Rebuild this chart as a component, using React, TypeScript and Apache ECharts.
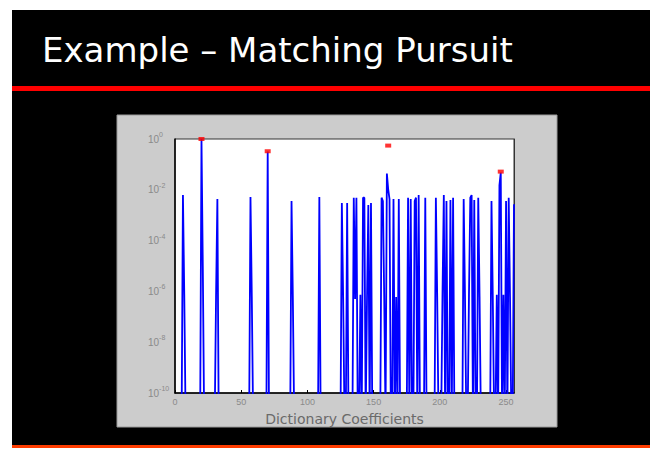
import React, { useEffect, useRef } from "react";
import * as echarts from "echarts";

// Slide text
const slideTitle = "Example – Matching Pursuit";
const xAxisTitle = "Dictionary Coefficients";

// Coefficient magnitudes (index → |c|); every other index sits at the noise floor
const coeffIndex = [
  6, 7, 20, 21, 31, 32, 57, 58, 70, 88, 89, 109, 126, 127, 130, 135, 136, 137,
  140, 142, 143, 145, 146, 148, 156, 157, 158, 160, 161, 162, 165, 167, 169,
  176, 178, 181, 182, 184, 189, 197, 198, 202, 203, 205, 208, 210, 218, 219,
  222, 223, 224, 226, 229, 230, 239, 240, 243, 245, 246, 248, 250, 252, 253, 256,
];
const coeffValue = [
  6.2e-3, 7.4e-7, 1.0, 9.3e-6, 6.0e-7, 4.3e-3, 5.2e-3, 6.0e-7, 0.32, 3.6e-3,
  5.0e-7, 5.2e-3, 3.0e-3, 5.0e-7, 3.0e-3, 4.9e-3, 5.0e-7, 4.9e-3, 7.4e-7,
  4.9e-3, 4.9e-3, 5.0e-7, 2.5e-3, 3.0e-3, 4.9e-3, 3.6e-3, 5.0e-7, 0.044,
  0.0105, 4.3e-3, 4.3e-3, 6.0e-7, 4.3e-3, 4.9e-3, 4.3e-3, 3.6e-3, 4.9e-3,
  6.2e-3, 4.9e-3, 4.9e-3, 6.3e-7, 7.4e-7, 6.2e-3, 3.6e-3, 4.0e-3, 4.9e-3,
  4.3e-3, 6.0e-7, 7.4e-7, 4.9e-3, 6.2e-3, 4.0e-3, 4.9e-3, 6.0e-7, 3.6e-3,
  5.0e-7, 7.4e-7, 0.015, 0.048, 7.4e-7, 3.6e-3, 4.9e-3, 6.0e-7, 2.7e-3,
];
const coeffCount = 257;
const noiseFloor = 1e-11;

// Atoms picked by the pursuit (red markers)
const pickedIndex = [20, 70, 161, 246];
const pickedValue = [1.0, 0.33, 0.55, 0.052];

// Axis ranges (y ticks every two decades)
const xMin = 0;
const xMax = 256;
const xStep = 50;
const yMin = 1e-10;
const yMax = 1;
const yDecadeStep = 2;

const labelGray = "#8a8a8a";

export default function App() {
  const ref = useRef<HTMLDivElement>(null);

  useEffect(() => {
    if (!ref.current) return;
    const chart = echarts.init(ref.current, undefined, { renderer: "svg" });

    const lookup = new Map<number, number>();
    coeffIndex.forEach((ix, k) => lookup.set(ix, coeffValue[k]));
    const lineData = Array.from({ length: coeffCount }, (_, i) => [
      i,
      lookup.has(i) ? (lookup.get(i) as number) : noiseFloor,
    ]);
    const pickedData = pickedIndex.map((ix, k) => [ix, pickedValue[k]]);

    const expLabel = (v: number) =>
      `{b|10}{e|${Math.round(Math.log10(v))}}`;

    chart.setOption({
      animation: false,
      backgroundColor: "#ffffff",
      graphic: [
        {
          type: "rect",
          z: -100,
          silent: true,
          shape: { x: 12, y: 10, width: 638, height: 436 },
          style: { fill: "#000000" },
        },
        {
          type: "rect",
          z: -99,
          silent: true,
          shape: { x: 12, y: 86, width: 638, height: 5 },
          style: { fill: "#ff0000" },
        },
        {
          type: "rect",
          z: -99,
          silent: true,
          shape: { x: 12, y: 445, width: 638, height: 3 },
          style: { fill: "#ff3c00" },
        },
        {
          type: "rect",
          z: -99,
          silent: true,
          shape: { x: 117, y: 115, width: 440, height: 312 },
          style: { fill: "#cccccc", stroke: "#9a9a9a", lineWidth: 1 },
        },
        {
          type: "text",
          z: -98,
          silent: true,
          x: 42,
          y: 50,
          style: {
            text: slideTitle,
            fill: "#ffffff",
            font: '34px "DejaVu Sans"',
            verticalAlign: "middle",
          },
        },
      ],
      grid: {
        left: 175,
        right: 147,
        top: 139,
        bottom: 60,
        show: true,
        backgroundColor: "#ffffff",
        borderColor: "#333333",
        borderWidth: 1,
      },
      xAxis: {
        type: "value",
        min: xMin,
        max: xMax,
        interval: xStep,
        name: xAxisTitle,
        nameLocation: "middle",
        nameGap: 19,
        nameTextStyle: {
          color: "#6a6a6a",
          fontSize: 14,
          fontFamily: "DejaVu Sans",
        },
        axisLine: { show: true, lineStyle: { color: "#000000", width: 1.5 } },
        axisTick: { inside: true, length: 3, lineStyle: { color: "#000000" } },
        splitLine: { show: false },
        axisLabel: {
          color: labelGray,
          fontSize: 9,
          fontFamily: "Liberation Sans",
          margin: 4,
          showMaxLabel: false,
        },
      },
      yAxis: [
        {
          type: "log",
          logBase: 10,
          min: yMin,
          max: yMax,
          interval: yDecadeStep,
          axisLine: { show: true, lineStyle: { color: "#000000", width: 1.5 } },
          axisTick: { show: false },
          splitLine: { show: false },
          axisLabel: {
            align: "left",
            margin: 27,
            formatter: expLabel,
            rich: {
              b: {
                fontSize: 10,
                color: labelGray,
                fontFamily: "Liberation Sans",
                lineHeight: 16,
              },
              e: {
                fontSize: 7,
                color: labelGray,
                fontFamily: "Liberation Sans",
                lineHeight: 8,
                verticalAlign: "top",
              },
            },
          },
        },
        {
          type: "log",
          logBase: 10,
          min: yMin,
          max: yMax,
          interval: yDecadeStep,
          position: "right",
          axisLine: { show: true, lineStyle: { color: "#333333", width: 1 } },
          axisTick: { show: false },
          splitLine: { show: false },
          axisLabel: { show: false },
        },
      ],
      series: [
        {
          type: "line",
          data: lineData,
          symbol: "none",
          clip: true,
          lineStyle: { color: "#0000ff", width: 1.8 },
          z: 2,
        },
        {
          type: "scatter",
          data: pickedData,
          symbol: "rect",
          symbolSize: [6, 4],
          itemStyle: { color: "#ff0000" },
          z: 3,
        },
      ],
    });

    return () => chart.dispose();
  }, []);

  return (
    <div
      ref={ref}
      style={{ position: "absolute", left: 0, top: 0, width: 661, height: 453 }}
    />
  );
}
